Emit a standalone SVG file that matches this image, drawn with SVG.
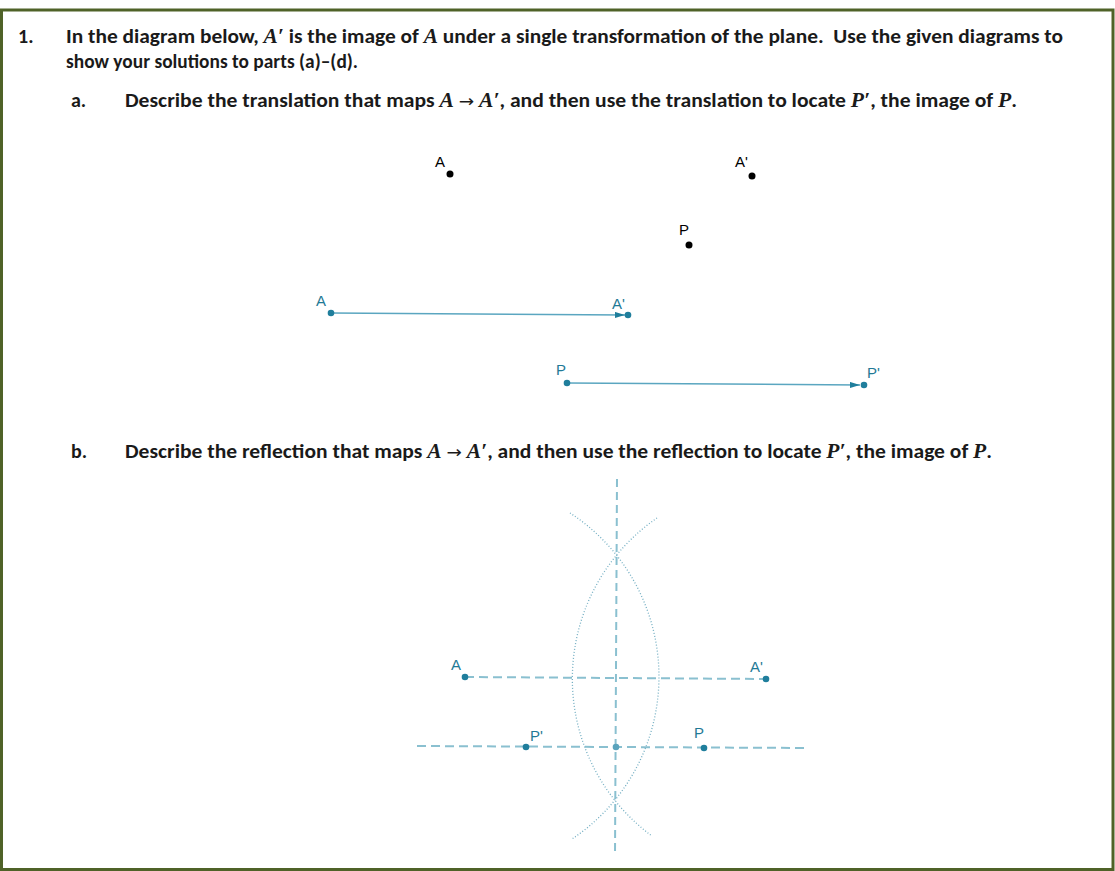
<svg xmlns="http://www.w3.org/2000/svg" width="1115" height="871" viewBox="0 0 1115 871">
<style>
.q{font-family:Calibri,Carlito,"Liberation Sans",Arial,sans-serif;font-weight:bold;font-size:20px;fill:#1a1a1a}
.m{font-family:"Liberation Serif","Times New Roman",serif;font-style:italic;font-weight:bold}
.ar{font-family:"DejaVu Sans","Liberation Serif",serif;font-style:normal;font-weight:normal;font-size:17px}
.bl{font-family:"Liberation Sans",Arial,sans-serif;font-size:15px;fill:#000}
.tl{font-family:"Liberation Sans",Arial,sans-serif;font-size:15px;fill:#1f7a96}
.vec{stroke:#5aa6c0;stroke-width:1.5;fill:none}
.dash{stroke:#8ac0d0;stroke-width:2;fill:none;stroke-dasharray:9 5}
.vdash{stroke:#8ac0d0;stroke-width:2;fill:none;stroke-dasharray:8 5}
.arc{stroke:#74afc3;stroke-width:1.3;fill:none;stroke-dasharray:1 2}
.bd{fill:#000}
.td{fill:#1f7e9c}
</style>
<defs>
<marker id="ah" viewBox="0 0 10 6" refX="10" refY="3" markerWidth="10" markerHeight="6" markerUnits="userSpaceOnUse" orient="auto">
<path d="M0,0 L10,3 L0,6 Z" fill="#1f7e9c"/>
</marker>
</defs>
<rect x="1.5" y="10" width="1111.5" height="859.5" fill="#fff" stroke="#4f6228" stroke-width="3"/>
<g id="text">
<text class="q" x="18" y="43">1.</text>
<text class="q" x="66" y="43" textLength="997" lengthAdjust="spacingAndGlyphs">In the diagram below, <tspan class="m">A′</tspan> is the image of <tspan class="m">A</tspan> under a single transformation of the plane.&#160; Use the given diagrams to</text>
<text class="q" x="66" y="68" textLength="292" lengthAdjust="spacingAndGlyphs">show your solutions to parts (a)–(d).</text>
<text class="q" x="71" y="107">a.</text>
<text class="q" x="125" y="107" textLength="892" lengthAdjust="spacingAndGlyphs">Describe the translation that maps <tspan class="m">A</tspan> <tspan class="ar">→</tspan> <tspan class="m">A′</tspan>, and then use the translation to locate <tspan class="m">P′</tspan>, the image of <tspan class="m">P</tspan>.</text>
<text class="q" x="71" y="458">b.</text>
<text class="q" x="125" y="458" textLength="867" lengthAdjust="spacingAndGlyphs">Describe the reflection that maps <tspan class="m">A</tspan> <tspan class="ar">→</tspan> <tspan class="m">A′</tspan>, and then use the reflection to locate <tspan class="m">P′</tspan>, the image of <tspan class="m">P</tspan>.</text>
</g>
<g id="connectors">
<line class="vec" x1="331" y1="313" x2="625" y2="315" marker-end="url(#ah)"/>
<line class="vec" x1="567" y1="383" x2="860" y2="385" marker-end="url(#ah)"/>
<line class="vdash" x1="617" y1="479" x2="615" y2="855"/>
<line class="dash" x1="465" y1="677" x2="766" y2="679"/>
<line class="dash" x1="417" y1="746" x2="807" y2="748"/>
<path class="arc" d="M570,513 A195,195 0 0 1 572,839"/>
<path class="arc" d="M657,518 A195,195 0 0 0 652,836"/>
</g>
<g id="a-given">
<g id="pA"><text class="bl" x="435" y="167">A</text><circle class="bd" cx="450" cy="174" r="3.5"/></g>
<g id="pA2"><text class="bl" x="735" y="167">A'</text><circle class="bd" cx="752" cy="176" r="3.5"/></g>
<g id="pP"><text class="bl" x="679" y="235">P</text><circle class="bd" cx="689" cy="245" r="3.5"/></g>
</g>
<g id="a-solution">
<g id="tA"><text class="tl" x="316" y="306">A</text><circle class="td" cx="331" cy="313" r="3.3"/></g>
<g id="tA2"><text class="tl" x="612" y="309">A'</text><circle class="td" cx="628" cy="315" r="3.3"/></g>
<g id="tP"><text class="tl" x="556" y="375">P</text><circle class="td" cx="567" cy="383" r="3.3"/></g>
<g id="tP2"><text class="tl" x="867" y="378">P'</text><circle class="td" cx="864" cy="385" r="3.3"/></g>
</g>
<g id="b-solution">
<g id="rA"><text class="tl" x="451" y="670">A</text><circle class="td" cx="465" cy="677" r="3.3"/></g>
<g id="rA2"><text class="tl" x="750" y="672">A'</text><circle class="td" cx="766" cy="679" r="3.3"/></g>
<g id="rP2"><text class="tl" x="530" y="741">P'</text><circle class="td" cx="526" cy="747" r="3.3"/></g>
<g id="rM"><circle cx="616" cy="747" r="3.3" fill="#5aa3bc"/></g>
<g id="rP"><text class="tl" x="694" y="738">P</text><circle class="td" cx="704" cy="748" r="3.3"/></g>
</g>
</svg>
